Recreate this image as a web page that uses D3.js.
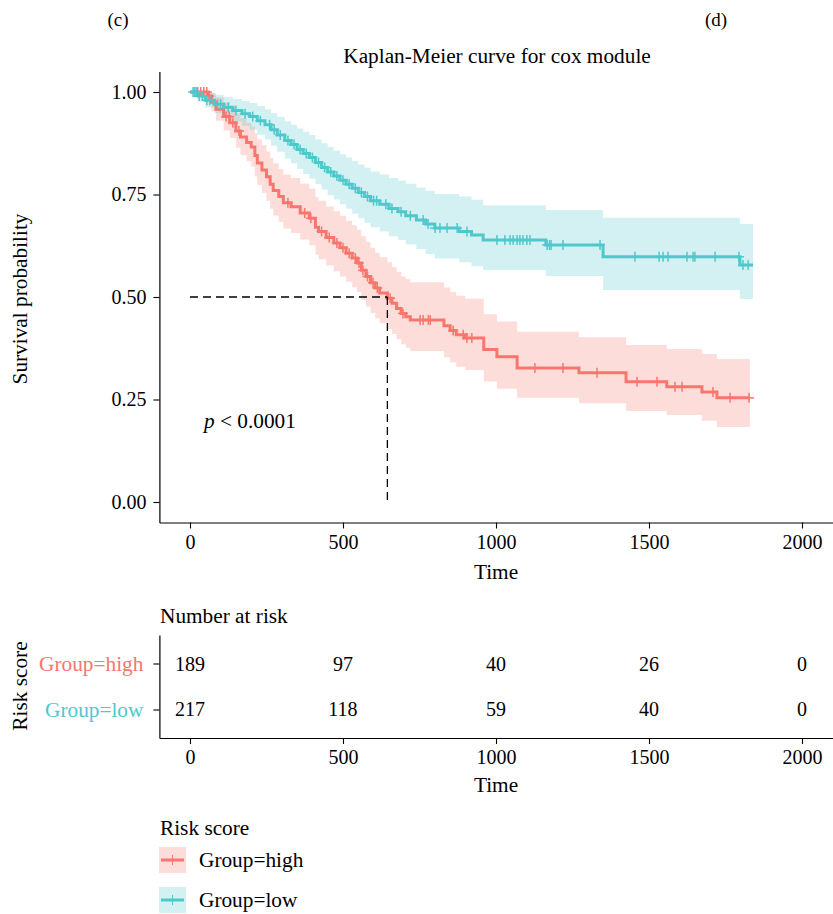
<!DOCTYPE html>
<html>
<head>
<meta charset="utf-8">
<script src="https://cdn.jsdelivr.net/npm/d3@7"></script>
<style>
  body { margin: 0; background: #fff; }
  svg { display: block; }
  text { font-family: "Liberation Serif", "Times New Roman", serif; }
</style>
</head>
<body>
<svg id="chart" width="833" height="914"></svg>
<script>
// ---- Kaplan-Meier estimates (step points) ----
const groups = ["Group=high", "Group=low"];
const groupColors = ["#F8766D", "#4FC8CC"];

const highTime  = [0,60,70,85,110,130,150,165,185,200,212,220,235,250,262,272,290,305,330,360,390,410,420,445,470,490,510,530,546,560,575,590,605,620,645,660,675,690,705,720,830,850,870,900,960,1003,1069,1271,1425,1558,1673,1722];
const highSurv  = [1.000,0.990,0.975,0.958,0.940,0.925,0.905,0.890,0.877,0.866,0.845,0.827,0.810,0.793,0.775,0.760,0.745,0.730,0.720,0.705,0.692,0.670,0.660,0.645,0.632,0.620,0.607,0.595,0.583,0.565,0.550,0.535,0.522,0.510,0.497,0.485,0.472,0.460,0.452,0.444,0.430,0.418,0.408,0.400,0.372,0.354,0.327,0.315,0.293,0.281,0.268,0.254];
const highLower = [1.000,0.975,0.953,0.930,0.906,0.888,0.864,0.846,0.831,0.818,0.794,0.773,0.754,0.735,0.715,0.699,0.683,0.667,0.656,0.640,0.626,0.603,0.592,0.577,0.563,0.550,0.537,0.524,0.512,0.493,0.477,0.461,0.448,0.436,0.422,0.410,0.397,0.385,0.376,0.368,0.353,0.341,0.330,0.322,0.294,0.276,0.254,0.241,0.222,0.212,0.198,0.183];
const highUpper = [1.000,1.000,0.997,0.987,0.975,0.964,0.948,0.936,0.925,0.916,0.899,0.884,0.870,0.855,0.839,0.826,0.812,0.799,0.790,0.776,0.764,0.744,0.735,0.721,0.709,0.698,0.686,0.675,0.664,0.648,0.634,0.620,0.608,0.597,0.585,0.573,0.561,0.550,0.543,0.536,0.523,0.512,0.503,0.496,0.458,0.440,0.415,0.402,0.383,0.373,0.361,0.349];
const highCensor = [25,35,45,55,62,118,128,140,160,320,375,395,430,455,480,500,520,540,552,565,580,598,612,654,696,752,762,779,785,860,893,905,921,1127,1219,1330,1461,1526,1585,1608,1709,1765,1827];
const highEnd = 1830;

const lowTime  = [0,25,50,80,110,140,170,195,220,245,265,285,310,330,350,370,390,410,430,450,470,490,510,530,550,570,590,620,650,680,705,740,770,800,880,920,958,1163,1350,1797];
const lowSurv  = [1.000,0.990,0.980,0.970,0.963,0.955,0.947,0.940,0.930,0.920,0.908,0.895,0.882,0.872,0.860,0.850,0.840,0.828,0.816,0.805,0.795,0.785,0.775,0.765,0.755,0.745,0.735,0.726,0.716,0.708,0.698,0.688,0.678,0.668,0.660,0.651,0.639,0.627,0.598,0.578];
const lowLower = [1.000,0.977,0.962,0.948,0.938,0.928,0.917,0.908,0.896,0.884,0.869,0.854,0.838,0.826,0.812,0.800,0.789,0.775,0.762,0.749,0.738,0.726,0.715,0.703,0.692,0.681,0.670,0.660,0.648,0.639,0.628,0.617,0.605,0.594,0.585,0.575,0.566,0.551,0.517,0.495];
const lowUpper = [1.000,1.000,0.999,0.993,0.988,0.983,0.978,0.973,0.966,0.958,0.949,0.939,0.928,0.920,0.911,0.903,0.895,0.885,0.875,0.866,0.857,0.848,0.840,0.832,0.823,0.815,0.806,0.799,0.790,0.784,0.776,0.767,0.759,0.751,0.745,0.737,0.724,0.712,0.693,0.678];
const lowCensor = [10,15,20,30,40,55,65,90,100,125,150,180,205,230,260,275,295,320,340,360,380,400,420,440,460,480,500,520,540,560,580,600,610,640,660,690,720,762,778,801,817,840,873,905,1003,1029,1046,1056,1069,1078,1088,1101,1111,1167,1175,1180,1219,1340,1454,1533,1546,1562,1624,1644,1650,1716,1794,1807,1824];
const lowEnd = 1840;

// ---- Axes and risk table ----
const timeTicks = [0, 500, 1000, 1500, 2000];
const survTicks = [0, 0.25, 0.5, 0.75, 1];
const highAtRisk = [189, 97, 40, 26, 0];
const lowAtRisk  = [217, 118, 59, 40, 0];
const pValueText = "< 0.0001";

const series = [
  { name: groups[0], color: groupColors[0], time: highTime, surv: highSurv, lower: highLower, upper: highUpper, censor: highCensor, end: highEnd, risk: highAtRisk },
  { name: groups[1], color: groupColors[1], time: lowTime,  surv: lowSurv,  lower: lowLower,  upper: lowUpper,  censor: lowCensor,  end: lowEnd,  risk: lowAtRisk }
];

const svg = d3.select("#chart");
const FS = 20;     // tick labels and table numbers
const LFS = 21.3;  // titles and labels

const x = d3.scaleLinear().domain([-100, 2100]).range([159.4, 832.6]);
const y = d3.scaleLinear().domain([-0.05, 1.05]).range([522.5, 71.5]);

// Panel labels
svg.append("text").attr("x", 118).attr("y", 26).attr("text-anchor", "middle").style("font-size", "19px").text("(c)");
svg.append("text").attr("x", 716).attr("y", 26).attr("text-anchor", "middle").style("font-size", "19px").text("(d)");

// Title
svg.append("text").attr("x", 497).attr("y", 63).attr("text-anchor", "middle")
  .style("font-size", LFS + "px").text("Kaplan-Meier curve for cox module");

// Step point lists
function stepPoints(s) {
  const pts = s.time.map((t, i) => ({ t, s: s.surv[i], lo: s.lower[i], hi: s.upper[i] }));
  const last = pts[pts.length - 1];
  pts.push({ t: s.end, s: last.s, lo: last.lo, hi: last.hi });
  return pts;
}
function survAt(s, t) {
  let v = s.surv[0];
  for (let i = 0; i < s.time.length; i++) { if (s.time[i] <= t) v = s.surv[i]; }
  return v;
}

const plot = svg.append("g");

// Confidence bands
series.forEach(s => {
  const pts = stepPoints(s);
  plot.append("path").datum(pts)
    .attr("d", d3.area().curve(d3.curveStepAfter)
      .x(d => x(d.t)).y0(d => y(d.lo)).y1(d => y(d.hi)))
    .attr("fill", s.color).attr("fill-opacity", 0.25).attr("stroke", "none");
});

// Survival curves
series.forEach(s => {
  const pts = stepPoints(s);
  plot.append("path").datum(pts)
    .attr("d", d3.line().curve(d3.curveStepAfter).x(d => x(d.t)).y(d => y(d.s)))
    .attr("fill", "none").attr("stroke", s.color).attr("stroke-width", 3);
});

// Censoring marks
series.forEach(s => {
  const g = plot.append("g").attr("stroke", s.color).attr("stroke-width", 1.5);
  s.censor.forEach(t => {
    const cx = x(t), cy = y(survAt(s, t));
    g.append("line").attr("x1", cx).attr("x2", cx).attr("y1", cy - 5).attr("y2", cy + 5);
    g.append("line").attr("x1", cx - 5).attr("x2", cx + 5).attr("y1", cy).attr("y2", cy);
  });
});

// Median survival guide (high-risk group)
const hi = series[0];
const medIdx = hi.surv.findIndex(v => v <= 0.5);
const medT = hi.time[medIdx];
plot.append("line").attr("x1", x(0)).attr("x2", x(medT)).attr("y1", y(0.5)).attr("y2", y(0.5))
  .attr("stroke", "#000").attr("stroke-width", 1.3).attr("stroke-dasharray", "8,5");
plot.append("line").attr("x1", x(medT)).attr("x2", x(medT)).attr("y1", y(0.5)).attr("y2", y(0))
  .attr("stroke", "#000").attr("stroke-width", 1.3).attr("stroke-dasharray", "8,5");

// p-value
const pt = svg.append("text").attr("x", 204).attr("y", 428).style("font-size", LFS + "px").style("fill", "#000");
pt.append("tspan").style("font-style", "italic").text("p");
pt.append("tspan").text(" " + pValueText);

// Axes
function styleAxis(g, size) {
  g.selectAll(".domain").attr("stroke", "#000").attr("stroke-width", 1.2);
  g.selectAll(".tick line").attr("stroke", "#000").attr("stroke-width", 1.1);
  g.selectAll(".tick text").style("font-size", size + "px")
    .style("font-family", '"Liberation Serif", serif').style("fill", "#000");
}
const yAxis = svg.append("g").attr("transform", "translate(159.4,0)")
  .call(d3.axisLeft(y).tickValues(survTicks).tickFormat(d3.format(".2f")).tickSize(6).tickSizeOuter(0).tickPadding(7));
styleAxis(yAxis, FS);
const xAxis = svg.append("g").attr("transform", "translate(0,522.5)")
  .call(d3.axisBottom(x).tickValues(timeTicks).tickFormat(d3.format("d")).tickSize(6).tickSizeOuter(0).tickPadding(6));
styleAxis(xAxis, FS);

svg.append("text").attr("x", 496).attr("y", 579).attr("text-anchor", "middle").style("font-size", LFS + "px").text("Time");
svg.append("text").attr("transform", "translate(27,299) rotate(-90)").attr("text-anchor", "middle")
  .style("font-size", LFS + "px").text("Survival probability");

// ---- Number at risk table ----
svg.append("text").attr("x", 160).attr("y", 623).style("font-size", LFS + "px").text("Number at risk");
const ty = d3.scalePoint().domain(groups).range([635, 738]).padding(0.62);
const tableY = svg.append("g").attr("transform", "translate(159.4,0)")
  .call(d3.axisLeft(ty).tickSize(6).tickSizeOuter(0).tickPadding(10));
styleAxis(tableY, LFS);
tableY.selectAll(".tick text").style("fill", (d, i) => groupColors[i]);
const tableX = svg.append("g").attr("transform", "translate(0,738)")
  .call(d3.axisBottom(x).tickValues(timeTicks).tickFormat(d3.format("d")).tickSize(6).tickSizeOuter(0).tickPadding(6));
styleAxis(tableX, FS);
series.forEach(s => {
  s.risk.forEach((n, i) => {
    svg.append("text").attr("x", x(timeTicks[i])).attr("y", ty(s.name)).attr("dy", "0.35em")
      .attr("text-anchor", "middle").style("font-size", FS + "px").text(n);
  });
});
svg.append("text").attr("x", 496).attr("y", 792).attr("text-anchor", "middle").style("font-size", LFS + "px").text("Time");
svg.append("text").attr("transform", "translate(27,686) rotate(-90)").attr("text-anchor", "middle")
  .style("font-size", LFS + "px").text("Risk score");

// ---- Legend ----
svg.append("text").attr("x", 160).attr("y", 835).style("font-size", LFS + "px").text("Risk score");
series.forEach((s, i) => {
  const top = 847 + i * 40;
  const g = svg.append("g");
  g.append("rect").attr("x", 159).attr("y", top).attr("width", 27).attr("height", 26)
    .attr("fill", s.color).attr("fill-opacity", 0.25);
  g.append("line").attr("x1", 161).attr("x2", 184).attr("y1", top + 13).attr("y2", top + 13)
    .attr("stroke", s.color).attr("stroke-width", 3);
  g.append("line").attr("x1", 172.5).attr("x2", 172.5).attr("y1", top + 8).attr("y2", top + 18)
    .attr("stroke", s.color).attr("stroke-width", 1);
  g.append("text").attr("x", 199).attr("y", top + 13).attr("dy", "0.35em").style("font-size", LFS + "px").text(s.name);
});
</script>
</body>
</html>
